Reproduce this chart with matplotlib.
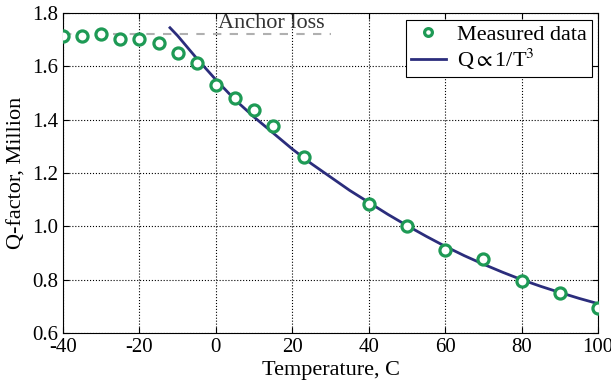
import matplotlib
matplotlib.use("Agg")
import matplotlib.pyplot as plt

# measured Q-factor (million) vs temperature (C)
temp_meas = [-40, -35, -30, -25, -20, -15, -10, -5, 0, 5, 10, 15, 23, 40, 50, 60, 70, 80, 90, 100]
q_meas = [1.714, 1.713, 1.722, 1.703, 1.704, 1.686, 1.651, 1.611, 1.532, 1.482, 1.436, 1.378,
          1.261, 1.084, 1.001, 0.911, 0.877, 0.796, 0.749, 0.693]

# fitted Q ~ 1/T^3 curve
temp_fit = [-12, -10, -5, 0, 5, 10, 15, 20, 25, 30, 35, 40, 45, 50, 55, 60, 65, 70, 75, 80, 85, 90, 95, 100]
q_fit = [1.745, 1.715, 1.63, 1.55, 1.475, 1.41, 1.35, 1.29, 1.235, 1.185, 1.135, 1.09, 1.045, 1.003,
         0.963, 0.925, 0.89, 0.858, 0.828, 0.80, 0.775, 0.752, 0.73, 0.71]

# anchor loss limit
anchor_x = [-40, 30]
anchor_q = [1.72, 1.72]

plt.rcParams['font.family'] = ['Liberation Serif', 'DejaVu Serif']
plt.rcParams['mathtext.fontset'] = 'stix'
plt.rcParams['axes.unicode_minus'] = False

fig = plt.figure(figsize=(6.11, 3.85), dpi=100)
ax = fig.add_axes([0.103, 0.135, 0.876, 0.831])

ax.plot(anchor_x, anchor_q, color='#b0b0b0', linestyle=(0, (4, 4)), linewidth=1.5, zorder=2)
ax.text(0.6, 1.745, 'Anchor loss', fontsize=16, color='#333333', va='baseline', ha='left')

ax.plot(temp_meas, q_meas, linestyle='none', marker='o', markersize=8, markeredgewidth=2.3,
        markerfacecolor='white', markeredgecolor='#1e9a55', label='Measured data', zorder=4)
ax.plot(temp_fit, q_fit, color='#2b2d7c', linewidth=2, label=r'Q$\propto$1/T$^3$', zorder=3)

ax.set_xlim(-40, 100)
ax.set_ylim(0.6, 1.8)
ax.set_xticks(range(-40, 101, 20))
ax.set_yticks([0.6, 0.8, 1.0, 1.2, 1.4, 1.6, 1.8])
ax.set_yticklabels(['0.6', '0.8', '1.0', '1.2', '1.4', '1.6', '1.8'])
ax.tick_params(direction='in', top=True, right=True, labelsize=15, length=4)
ax.grid(True, linestyle=':', color='black', linewidth=0.8)
ax.set_xlabel('Temperature, C', fontsize=16, labelpad=3)
ax.set_ylabel('Q-factor, Million', fontsize=16, labelpad=4)

leg = ax.legend(loc='upper right', fontsize=16, fancybox=False, edgecolor='black',
                framealpha=1, handlelength=1.6, numpoints=1, borderpad=0.2,
                labelspacing=0.1, handletextpad=0.5, borderaxespad=0.3, markerscale=0.7)
leg.get_frame().set_linewidth(0.8)

fig.savefig('out.png', dpi=100)
